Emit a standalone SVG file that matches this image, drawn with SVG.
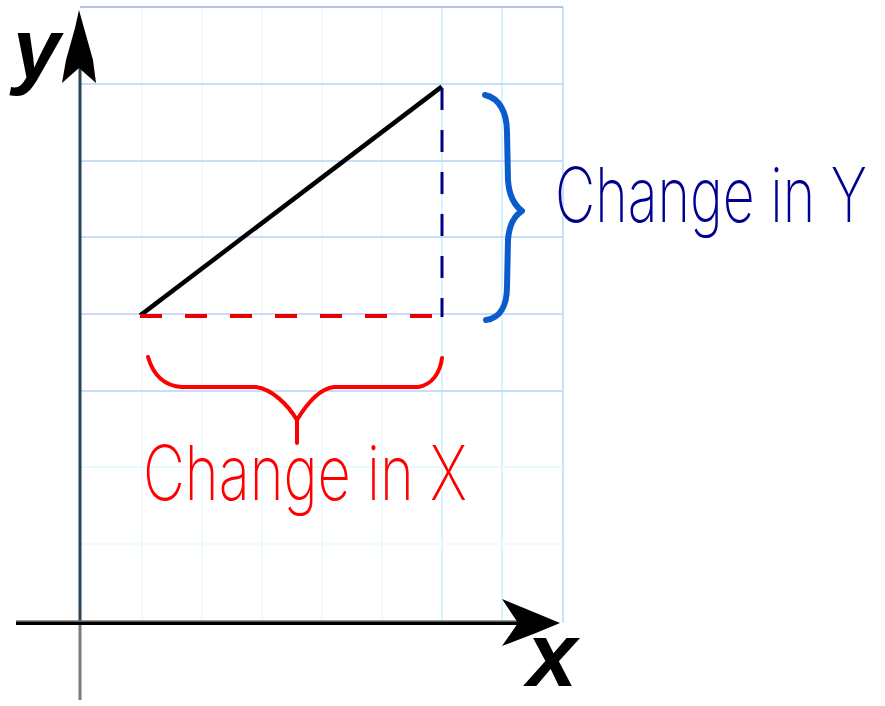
<svg xmlns="http://www.w3.org/2000/svg" width="885" height="706" viewBox="0 0 885 706">
<style>
.hg{stroke:#c9dcf8;stroke-width:2;fill:none}
.vg{stroke:#f0fbff;stroke-width:2;fill:none}
.vg2{stroke:#d6f6ff;stroke-width:2;fill:none}
.lbl{font-family:Inter,"Liberation Sans",sans-serif;font-weight:200;font-size:56px}
.ax{font-family:"Liberation Sans",Arial,sans-serif;font-weight:bold;font-style:italic;fill:#000}
</style>
<rect width="885" height="706" fill="#fff"/>
<g id="grid">
<line class="vg" x1="142" y1="7" x2="142" y2="623"/>
<line class="vg" x1="202" y1="7" x2="202" y2="623"/>
<line class="vg" x1="262" y1="7" x2="262" y2="623"/>
<line class="vg" x1="322" y1="7" x2="322" y2="623"/>
<line class="vg" x1="382" y1="7" x2="382" y2="623"/>
<line class="vg2" x1="442" y1="7" x2="442" y2="623"/>
<line class="vg2" x1="502" y1="7" x2="502" y2="623"/>
<line class="vg2" x1="563" y1="7" x2="563" y2="623" style="stroke:#c8e0f8"/>
<line class="hg" x1="80" y1="7" x2="563" y2="7" style="stroke:#b8c0f0"/>
<line class="hg" x1="80" y1="84" x2="563" y2="84"/>
<line class="hg" x1="80" y1="161" x2="563" y2="161"/>
<line class="hg" x1="80" y1="237" x2="563" y2="237"/>
<line class="hg" x1="80" y1="314" x2="563" y2="314"/>
<line class="hg" x1="80" y1="391" x2="563" y2="391"/>
<line class="hg" x1="80" y1="467" x2="563" y2="467" style="stroke:#eaf8ff"/>
<line class="hg" x1="80" y1="544" x2="563" y2="544" style="stroke:#f0fbff"/>
</g>
<g id="axes">
<line x1="80" y1="40" x2="80" y2="623" stroke="#2b4252" stroke-width="3"/>
<line x1="80" y1="623" x2="80" y2="700" stroke="#7a7a7a" stroke-width="3"/>
<line x1="16" y1="623" x2="520" y2="623" stroke="#000" stroke-width="4"/>
<line x1="16" y1="621" x2="520" y2="621" stroke="#777" stroke-width="1.5"/>
<path d="M79,10 L84,28 L93,60 L96,83 L79,68 L62,83 L66,60 L75,28 Z" fill="#000"/>
<path d="M560,623 L536,613 L502,599 L518,623 L502,646 L536,633 Z" fill="#000"/>
</g>
<g id="axis-labels">
<text class="ax" x="13" y="78" font-size="85">y</text>
<text class="ax" x="527" y="686" font-size="90">x</text>
</g>
<g id="triangle">
<line x1="142" y1="314" x2="440" y2="88" stroke="#000" stroke-width="4.5" stroke-linecap="square"/>
<line x1="140" y1="316" x2="432" y2="316" stroke="#e80000" stroke-width="4" stroke-dasharray="22 23"/>
<line x1="442" y1="88" x2="442" y2="317" stroke="#000080" stroke-width="3" stroke-dasharray="22 20"/>
</g>
<g id="brace-x">
<path d="M148,357 C153,374 163,386 182,387 L256,387 C272,389 288,405 297,420 C306,405 318,389 334,387 L418,387 C432,385 440,373 442,358 M297,420 L297,443" fill="none" stroke="#f00" stroke-width="4" stroke-linecap="round" stroke-linejoin="round"/>
</g>
<g id="brace-y">
<path d="M485,95 C499,98 507,112 507,132 L508,180 C509,196 514,205 522,211 C514,216 509,226 508,240 L507,287 C507,306 500,318 486,320" fill="none" stroke="#0a5ccc" stroke-width="6" stroke-linecap="round" stroke-linejoin="round"/>
</g>
<g id="labels">
<text class="lbl" transform="translate(143,500) scale(1,1.357)" fill="#f00" textLength="324" lengthAdjust="spacingAndGlyphs">Change in X</text>
<text class="lbl" transform="translate(555,222) scale(1,1.357)" fill="#000090" textLength="312" lengthAdjust="spacingAndGlyphs">Change in Y</text>
</g>
</svg>
